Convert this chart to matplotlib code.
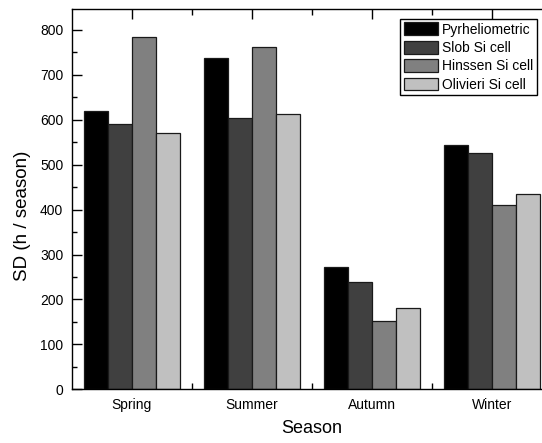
import numpy as np
import matplotlib
matplotlib.use("Agg")
import matplotlib.pyplot as plt
from matplotlib.ticker import MultipleLocator, FixedLocator

# data: sunshine duration per season
seasons = ["Spring", "Summer", "Autumn", "Winter"]
series_names = ["Pyrheliometric", "Slob Si cell", "Hinssen Si cell", "Olivieri Si cell"]
pyrheliometric = [620, 737, 272, 545]
slob = [590, 605, 239, 527]
hinssen = [784, 762, 152, 411]
olivieri = [570, 613, 181, 435]

COLORS = ["#000000", "#404040", "#808080", "#c0c0c0"]

plt.rcParams["font.family"] = ["Liberation Sans", "DejaVu Sans"]
plt.rcParams.update({
    "axes.linewidth": 1.0,
    "xtick.direction": "in",
    "ytick.direction": "in",
})

fig = plt.figure(figsize=(5.42, 4.43), dpi=100)
# axes run a little past the right edge of the figure
ax = fig.add_axes([71.7 / 542, 1 - 389.3 / 443, 480 / 542, 380 / 443])

x = np.arange(len(seasons))
width = 0.2
all_series = [pyrheliometric, slob, hinssen, olivieri]
for i, (vals, name) in enumerate(zip(all_series, series_names)):
    ax.bar(x + (i - 1.5) * width, vals, width, color=COLORS[i],
           edgecolor="#1a1a1a", linewidth=0.9, label=name)

ax.set_xlim(-0.5, 3.5)
ax.set_ylim(0, 846)
ax.set_axisbelow(True)

ax.set_xticks(x)
ax.set_xticklabels(seasons, fontsize=10)
ax.xaxis.set_minor_locator(FixedLocator([0.5, 1.5, 2.5]))
ax.yaxis.set_major_locator(MultipleLocator(100))
ax.yaxis.set_minor_locator(MultipleLocator(50))
ax.tick_params(axis="y", which="major", length=7, width=1.0, labelsize=10, pad=6)
ax.tick_params(axis="y", which="minor", length=3.5, width=1.0)
ax.tick_params(axis="x", which="major", length=7, width=1.0, top=True, pad=6)
ax.tick_params(axis="x", which="minor", length=4.5, width=1.0, top=True)

ax.set_xlabel("Season", fontsize=13, labelpad=6)
ax.set_ylabel("SD (h / season)", fontsize=13.5)
ax.yaxis.set_label_coords(-0.085, 0.457)

leg = ax.legend(loc="upper right", bbox_to_anchor=(536.7 / 542, 1 - 19 / 443),
                bbox_transform=fig.transFigure, borderaxespad=0,
                fontsize=10, frameon=True, fancybox=False, framealpha=1,
                edgecolor="black", handlelength=2.45, handleheight=1.05,
                handletextpad=0.3, labelspacing=0.3, borderpad=0.25)
leg.get_frame().set_linewidth(1.0)

fig.savefig("out.png", dpi=100)
